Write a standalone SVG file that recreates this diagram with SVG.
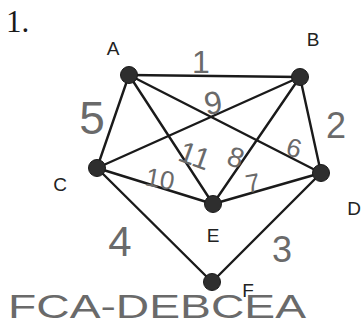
<svg xmlns="http://www.w3.org/2000/svg" width="362" height="325" viewBox="0 0 362 325">
<style>
.e{stroke:#1a1a1a;stroke-width:2.4;fill:none;stroke-linecap:round}
.n{fill:#2e2e2e;stroke:#1a1a1a;stroke-width:1}
.l{font-family:"Liberation Sans",Arial,sans-serif;font-size:19px;fill:#222;text-anchor:middle}
.h{font-family:"Liberation Sans",Arial,sans-serif;fill:#6a6a6a;text-anchor:middle}
.s{font-family:"Liberation Sans",Arial,sans-serif;fill:#6a6a6a;text-anchor:start;font-size:34px}
</style>
<rect width="362" height="325" fill="#fff"/>
<text x="6" y="32" font-family="Liberation Serif,serif" font-size="31" fill="#1a1a1a">1.</text>
<g id="edges">
<line class="e" x1="129" y1="75" x2="300" y2="77"/>
<line class="e" x1="129" y1="75" x2="97" y2="168"/>
<line class="e" x1="129" y1="75" x2="213" y2="204"/>
<line class="e" x1="129" y1="75" x2="321" y2="173"/>
<line class="e" x1="300" y1="77" x2="97" y2="168"/>
<line class="e" x1="300" y1="77" x2="213" y2="204"/>
<line class="e" x1="300" y1="77" x2="321" y2="173"/>
<line class="e" x1="97" y1="168" x2="213" y2="204"/>
<line class="e" x1="97" y1="168" x2="212" y2="282"/>
<line class="e" x1="213" y1="204" x2="321" y2="173"/>
<line class="e" x1="321" y1="173" x2="212" y2="282"/>
</g>
<g id="A"><circle class="n" cx="129" cy="75" r="8.5"/><text class="l" x="113" y="55">A</text></g>
<g id="B"><circle class="n" cx="300" cy="77" r="8.5"/><text class="l" x="313" y="46">B</text></g>
<g id="C"><circle class="n" cx="97" cy="168" r="8.5"/><text class="l" x="60" y="191">C</text></g>
<g id="D"><circle class="n" cx="321" cy="173" r="8.5"/><text class="l" x="354" y="215">D</text></g>
<g id="E"><circle class="n" cx="213" cy="204" r="8.5"/><text class="l" x="213" y="242">E</text></g>
<g id="F"><circle class="n" cx="212" cy="282" r="8.5"/><text class="l" x="248" y="297">F</text></g>
<g id="weights">
<text class="h" x="201" y="73" font-size="32">1</text>
<text class="h" x="92" y="134" font-size="46">5</text>
<text class="h" x="336" y="138" font-size="36">2</text>
<text class="h" x="213" y="114" font-size="32" transform="rotate(-10 213 102)">9</text>
<text class="h" x="195" y="166" font-size="30" transform="rotate(20 195 155)">11</text>
<text class="h" x="236" y="167" font-size="28" transform="rotate(20 236 157)">8</text>
<text class="h" x="294" y="157" font-size="26" transform="rotate(15 294 148)">6</text>
<text class="h" x="160" y="188" font-size="26" transform="rotate(10 160 179)">10</text>
<text class="h" x="253" y="192" font-size="26" transform="rotate(-10 253 184)">7</text>
<text class="h" x="120" y="256" font-size="42">4</text>
<text class="h" x="282" y="262" font-size="36">3</text>
</g>
<text class="s" x="8" y="318" textLength="298" lengthAdjust="spacingAndGlyphs">FCA-DEBCEA</text>
</svg>
